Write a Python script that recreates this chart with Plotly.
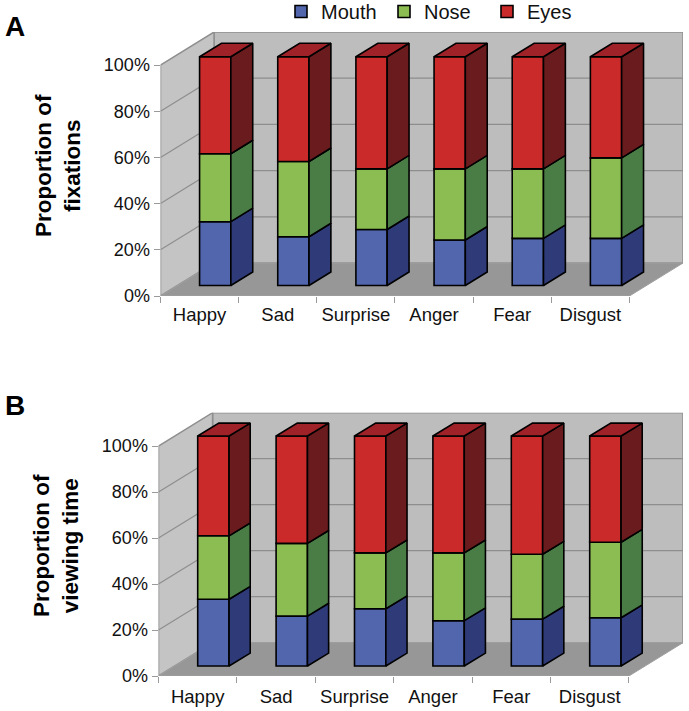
import plotly.graph_objects as go

W, H = 689, 711
emotions = ["Happy", "Sad", "Surprise", "Anger", "Fear", "Disgust"]
series = ["Mouth", "Nose", "Eyes"]

mouth_a = [27.9, 21.3, 24.5, 19.9, 20.6, 20.6]
nose_a = [29.7, 32.9, 26.5, 31.1, 30.4, 35.2]
eyes_a = [42.4, 45.8, 49.0, 49.0, 49.0, 44.2]

mouth_b = [29.0, 21.7, 24.9, 19.7, 20.4, 21.0]
nose_b = [27.6, 31.6, 24.3, 29.5, 28.2, 32.8]
eyes_b = [43.4, 46.7, 50.8, 50.8, 51.4, 46.2]

y_ticks = [0, 20, 40, 60, 80, 100]
y_labels = ["0%", "20%", "40%", "60%", "80%", "100%"]

front = ["#5166ad", "#8bbd52", "#cb2a2b"]
side = ["#2f3b78", "#4a7d46", "#6a1b1e"]
top_col = "#a02229"
WALL, SIDE_WALL, FLOOR, GRID = "#bdbdbd", "#c4c4c4", "#979797", "#8e8e8e"
FONT = "Liberation Sans, Arial, sans-serif"

fig = go.Figure()
shapes = []


def panel(idx, stacks, px_left, px_right, px_top, px_zero, px_100, wall_dx, bar_base, bar_scale, bar_dx, bar_dy, standoff):
    sx = "" if idx == 1 else str(idx)
    xref, yref = f"x{sx}", f"y{sx}"
    ppu = (px_zero - px_100) / 100.0
    xmax = 6 + wall_dx
    wall_dy = (px_100 - px_top) / ppu
    ymax = (px_zero - px_top) / ppu

    def poly(pts, fill, line="#8f8f8f", width=1.5):
        path = "M" + "L".join(f"{a},{b}" for a, b in pts) + "Z"
        shapes.append(dict(type="path", path=path, xref=xref, yref=yref, fillcolor=fill,
                           line=dict(color=line, width=width), layer="below"))

    poly([(wall_dx, wall_dy), (xmax, wall_dy), (xmax, ymax), (wall_dx, ymax)], WALL)
    poly([(0, 0), (wall_dx, wall_dy), (wall_dx, ymax), (0, 100)], SIDE_WALL)
    poly([(0, 0), (6, 0), (xmax, wall_dy), (wall_dx, wall_dy)], FLOOR, line="#a0a0a0", width=1)
    for v in y_ticks[1:-1]:
        for a, b in [((0, v), (wall_dx, v + wall_dy)), ((wall_dx, v + wall_dy), (xmax, v + wall_dy))]:
            shapes.append(dict(type="line", x0=a[0], y0=a[1], x1=b[0], y1=b[1], xref=xref, yref=yref,
                               line=dict(color=GRID, width=1.2), layer="below"))

    centers = [i + 0.70 for i in range(6)]
    width = 0.40
    cum = [0.0] * 6
    for s, vals in enumerate(stacks):
        bases = [bar_base + c * bar_scale for c in cum]
        heights = [v * bar_scale for v in vals]
        fig.add_trace(go.Bar(x=centers, y=heights, base=bases, width=width, name=series[s],
                             marker=dict(color=front[s], line=dict(color="#000000", width=1.6)),
                             showlegend=idx == 1, xaxis=xref, yaxis=yref, hoverinfo="skip"))
        xs, ys = [], []
        for c, b, h in zip(centers, bases, heights):
            r = c + width / 2
            xs += [r, r + bar_dx, r + bar_dx, r, r, None]
            ys += [b, b + bar_dy, b + h + bar_dy, b + h, b, None]
        fig.add_trace(go.Scatter(x=xs, y=ys, mode="lines", fill="toself", fillcolor=side[s],
                                 line=dict(color="#000000", width=1.6), showlegend=False,
                                 xaxis=xref, yaxis=yref, hoverinfo="skip"))
        cum = [c + v for c, v in zip(cum, vals)]
    xs, ys = [], []
    for c, t in zip(centers, [bar_base + c * bar_scale for c in cum]):
        l, r = c - width / 2, c + width / 2
        xs += [l, l + bar_dx, r + bar_dx, r, l, None]
        ys += [t, t + bar_dy, t + bar_dy, t, t, None]
    fig.add_trace(go.Scatter(x=xs, y=ys, mode="lines", fill="toself", fillcolor=top_col,
                             line=dict(color="#000000", width=1.6), showlegend=False,
                             xaxis=xref, yaxis=yref, hoverinfo="skip"))

    tick_font = dict(family=FONT, size=18, color="#111111")
    xa = dict(domain=[px_left / W, px_right / W], range=[0, xmax], showgrid=False, zeroline=False,
              showline=False, tickmode="array", tickvals=[i + 0.5 for i in range(6)], ticktext=emotions,
              ticks="", tickfont=dict(family=FONT, size=18.5, color="#111111"), anchor=yref,
              minor=dict(tickmode="array", tickvals=list(range(7)), ticks="outside", ticklen=6,
                         tickwidth=1, tickcolor="#9a9a9a", showgrid=False),
              ticklabelstandoff=standoff, fixedrange=True)
    ya = dict(domain=[1 - px_zero / H, 1 - px_top / H], range=[0, ymax], showgrid=False, zeroline=False,
              showline=False, tickmode="array", tickvals=y_ticks, ticktext=y_labels, ticks="outside",
              ticklen=6, tickwidth=1, tickcolor="#9a9a9a", tickfont=tick_font, anchor=xref, fixedrange=True)
    fig.layout[f"xaxis{sx}"] = xa
    fig.layout[f"yaxis{sx}"] = ya


panel(1, [mouth_a, nose_a, eyes_a], 160.5, 683, 32, 296, 65, 0.685, 4.55, 0.99, 0.28, 5.85, 5)
panel(2, [mouth_b, nose_b, eyes_b], 158.5, 683, 412.7, 676, 446, 0.69, 4.35, 1.0, 0.27, 5.6, 7)

annotations = [
    dict(text="<b>A</b>", x=3 / W, y=1 - 27 / H, xanchor="left", yanchor="middle", font_size=28),
    dict(text="<b>B</b>", x=3 / W, y=1 - 405 / H, xanchor="left", yanchor="middle", font_size=28),
    dict(text="<b>Proportion of<br>fixations</b>", x=58 / W, y=1 - 166 / H, textangle=-90,
         xanchor="center", yanchor="middle", font_size=22.5),
    dict(text="<b>Proportion of<br>viewing time</b>", x=56 / W, y=1 - 546 / H, textangle=-90,
         xanchor="center", yanchor="middle", font_size=22.5),
]
for a in annotations:
    a.update(xref="paper", yref="paper", showarrow=False)
    a["font"] = dict(family=FONT, size=a.pop("font_size"), color="#000000")

fig.update_layout(
    width=W, height=H, margin=dict(l=0, r=0, t=0, b=0, autoexpand=False), autosize=False,
    paper_bgcolor="#ffffff", plot_bgcolor="rgba(0,0,0,0)", barmode="overlay",
    shapes=shapes, annotations=annotations,
    legend=dict(orientation="h", x=288 / W, y=1 + 8 / H, xanchor="left", yanchor="top",
                entrywidth=65, entrywidthmode="pixels", bgcolor="rgba(0,0,0,0)", indentation=-7,
                font=dict(family=FONT, size=20, color="#111111"), traceorder="normal"),
)
fig.write_html("out.html", config=dict(displayModeBar=False),
               post_script="document.body.style.margin='0';")
